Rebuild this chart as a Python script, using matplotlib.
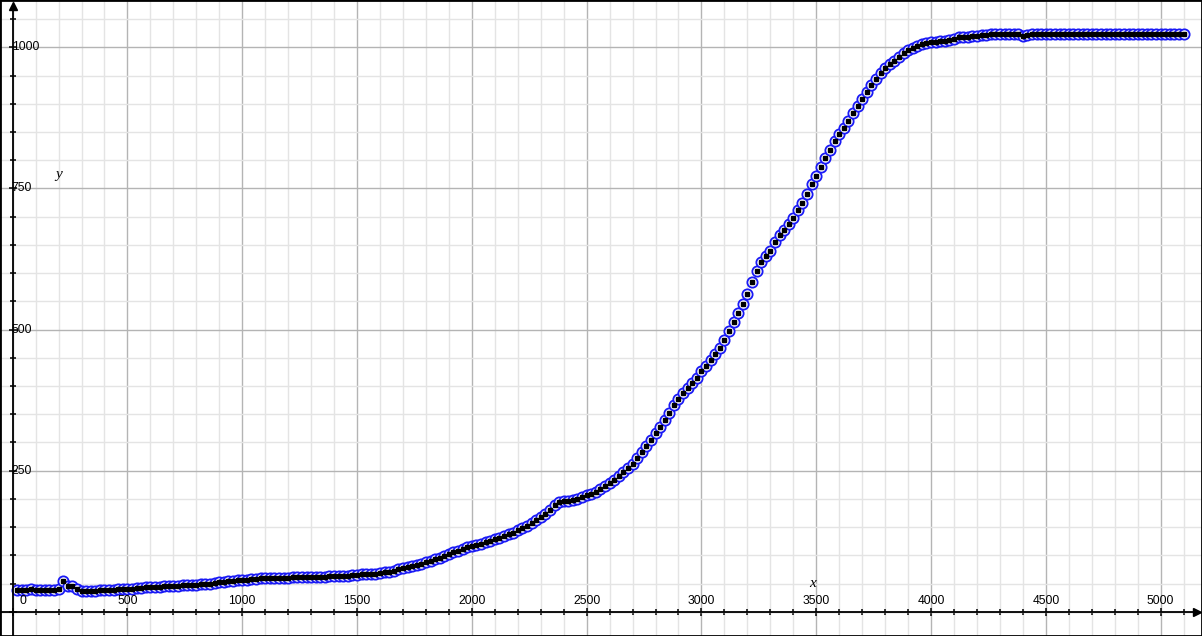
import numpy as np
import matplotlib
matplotlib.use("Agg")
import matplotlib.pyplot as plt
from matplotlib.ticker import MultipleLocator, NullFormatter

# samples every 20 units of x, from 20 to 5100
x = np.arange(20, 5101, 20)

y_a = [39, 39, 39, 40, 39, 38, 38, 39, 39, 40, 54, 46, 45, 40, 36]
y_b = [36, 37, 37, 38, 38, 39, 39, 40, 40, 41, 41, 42, 42, 43, 43, 44, 44, 45,
       45, 46, 46, 47, 47, 48, 48, 49, 50, 50, 51, 52, 53, 54, 55, 56, 57]
y_c = [57, 58, 58, 59, 59, 59, 60, 60, 60, 60, 61, 61, 61, 61, 62,
       62, 62, 62, 63, 63, 63, 64, 64, 65, 65, 66, 66, 67, 67, 68]
y_d = [70, 71, 73, 75, 77, 79, 81, 83, 85, 88,
       90, 93, 96, 99, 102, 105, 108, 111, 114, 116]
y_e = [118, 120, 123, 126, 128, 131, 134, 137, 140, 144, 148, 152, 157,
       162, 168, 174, 181, 190, 194, 196, 197, 198, 200, 203, 206]
y_f = [209, 213, 217, 222, 228, 234, 240, 247, 254, 262, 272, 283, 293,
       305, 316, 328, 340, 353, 366, 377, 387, 396, 405, 415, 426]
y_g = [436, 446, 457, 468, 481, 497, 513, 529, 545, 563, 584, 603, 619,
       630, 640, 656, 668, 677, 687, 698, 711, 724, 741, 758, 773]
y_h = [788, 804, 819, 834, 846, 857, 870, 883, 896, 908, 921, 933, 944,
       954, 963, 970, 976, 983, 990, 995, 999, 1003, 1006, 1008, 1009]
y_i = [1010, 1011, 1012, 1014, 1015, 1018, 1019, 1018, 1020, 1021, 1022, 1022, 1023,
       1023, 1024, 1024, 1024, 1023, 1024, 1021, 1022, 1024, 1024, 1023, 1024]
y_j = [1024, 1023, 1023, 1024, 1024, 1023, 1024, 1023, 1023, 1024,
       1024, 1023, 1023, 1023, 1024, 1023, 1023, 1024, 1023, 1023,
       1023, 1024, 1023, 1023, 1023, 1023, 1023, 1023, 1023, 1023]
y = y_a + y_b + y_c + y_d + y_e + y_f + y_g + y_h + y_i + y_j

x_labels = [0, 500, 1000, 1500, 2000, 2500, 3000, 3500, 4000, 4500, 5000]
y_labels = [250, 500, 750, 1000]

fig = plt.figure(figsize=(12.02, 6.36), dpi=100)
ax = fig.add_axes([0, 0, 1, 1])
ax.set_xlim(-55, 5180)
ax.set_ylim(-43, 1084)

ax.xaxis.set_major_locator(MultipleLocator(500))
ax.xaxis.set_minor_locator(MultipleLocator(100))
ax.yaxis.set_major_locator(MultipleLocator(250))
ax.yaxis.set_minor_locator(MultipleLocator(50))
ax.xaxis.set_major_formatter(NullFormatter())
ax.yaxis.set_major_formatter(NullFormatter())
ax.grid(which='major', color='#b4b4b4', lw=1)
ax.grid(which='minor', color='#e4e4e4', lw=1)
ax.set_axisbelow(True)

for s in ['top', 'right']:
    ax.spines[s].set_visible(False)
ax.spines['left'].set_position(('data', 0))
ax.spines['bottom'].set_position(('data', 0))
ax.spines['left'].set_linewidth(1.3)
ax.spines['bottom'].set_linewidth(1.3)
ax.spines['bottom'].set_bounds(-55, 5155)
ax.spines['left'].set_bounds(-43, 1072)
ax.tick_params(which='major', direction='inout', length=6, width=1.1)
ax.tick_params(which='minor', direction='inout', length=4.5, width=1.1)

ax.plot(5158, 0, '>', color='black', ms=6, clip_on=False)
ax.plot(0, 1074, '^', color='black', ms=6, clip_on=False)

ax.plot(x, y, 'o', ms=7.4, mfc='white', mec='#1a1af5', mew=1.3, ls='none')
ax.plot(x, y, 's', ms=2.9, color='black', ls='none')

for v in x_labels:
    dx = 10 if v == 0 else 0
    ax.annotate(str(v), (v, 0), xytext=(dx, 8), textcoords='offset pixels',
                ha='center', va='baseline', fontsize=8.7, family='Liberation Sans')
for v in y_labels:
    ax.annotate(str(v), (0, v), xytext=(-1, 0), textcoords='offset pixels',
                ha='left', va='center', fontsize=8.7, family='Liberation Sans')

ax.text(3482, 50, 'x', ha='center', va='center', fontsize=11,
        family='Liberation Serif', style='italic')
ax.text(202, 774, 'y', ha='center', va='center', fontsize=11,
        family='Liberation Serif', style='italic')

# thin black frame round the whole picture
fig.add_artist(plt.Rectangle((0, 0), 1, 1, transform=fig.transFigure,
                             fill=False, ec='black', lw=2))

fig.savefig('out.png', dpi=100)
